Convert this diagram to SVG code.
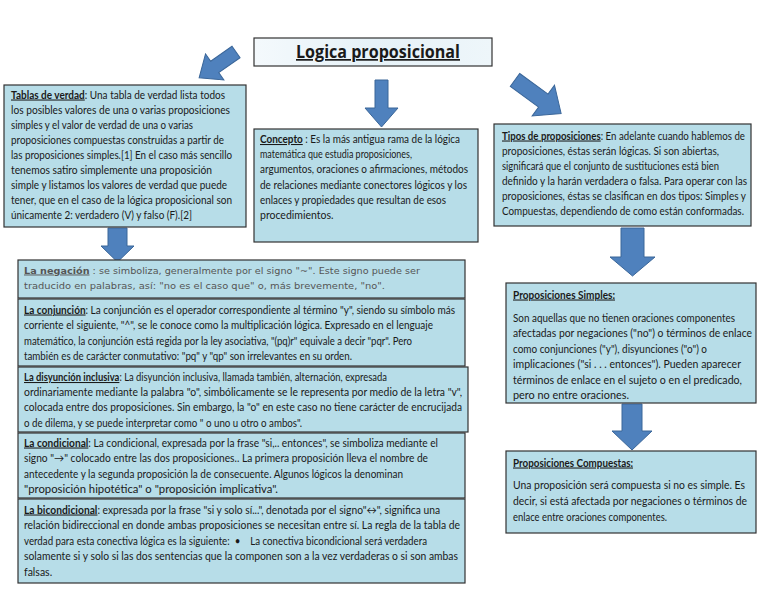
<svg xmlns="http://www.w3.org/2000/svg" width="768" height="594" viewBox="0 0 768 594">
<defs>
<linearGradient id="tg" x1="0" y1="0" x2="1" y2="0">
<stop offset="0" stop-color="#f4f9fc"/>
<stop offset="0.5" stop-color="#e6f2f8"/>
<stop offset="1" stop-color="#eef6fa"/>
</linearGradient>
</defs>
<style>
.box{fill:#b7dde8;stroke:#333;stroke-width:1.2}
.t{font-family:Lato,"Liberation Sans",sans-serif;font-size:10.5px;fill:#1a1a1a}
.n{font-family:"DejaVu Sans",sans-serif;font-size:9.5px;fill:#555}
.h{font-weight:bold;text-decoration:underline}
.arr{fill:#4f81bd;stroke:#3a6699;stroke-width:1}
</style>
<rect width="768" height="594" fill="#fff"/>
<g id="connectors">
<polygon class="arr" points="375,80 388,80 388,108 398,108 381.5,127 365,108 375,108"/>
<polygon class="arr" points="108,228 127,228 127,246 134,246 117.5,262 101,246 108,246"/>
<polygon class="arr" points="621,228 644,228 644,257 655,257 632.5,276 610,257 621,257"/>
<polygon class="arr" points="622,404 642,404 642,431 652,431 632,450 612,431 622,431"/>
<polygon class="arr" transform="translate(236,52) rotate(145)" points="0,-7 26,-7 26,-16 45,0 26,16 26,7 0,7"/>
<polygon class="arr" transform="translate(515,80) rotate(36)" points="0,-8 35,-8 35,-19 57,0 35,19 35,8 0,8"/>
</g>
<g id="title">
<rect x="254" y="38" width="238" height="28" fill="url(#tg)" stroke="#333" stroke-width="1.2"/>
<text x="296" y="58" font-family="'Open Sans','Liberation Sans',sans-serif" font-size="17" font-weight="bold" text-decoration="underline" fill="#1a1a1a" textLength="164" lengthAdjust="spacingAndGlyphs">Logica proposicional</text>
</g>
<g id="tablas">
<rect class="box" x="4" y="85" width="242" height="142"/>
<text class="t" x="11" y="98.5" textLength="214" lengthAdjust="spacingAndGlyphs"><tspan class="h">Tablas de verdad</tspan>: Una tabla de verdad lista todos</text>
<text class="t" x="11" y="113.6" textLength="219" lengthAdjust="spacingAndGlyphs">los posibles valores de una o varias proposiciones</text>
<text class="t" x="11" y="128.7" textLength="182" lengthAdjust="spacingAndGlyphs">simples y el valor de verdad de una o varias</text>
<text class="t" x="11" y="143.8" textLength="213" lengthAdjust="spacingAndGlyphs">proposiciones compuestas construidas a partir de</text>
<text class="t" x="11" y="158.9" textLength="221" lengthAdjust="spacingAndGlyphs">las proposiciones simples.[1] En el caso más sencillo</text>
<text class="t" x="11" y="174" textLength="201" lengthAdjust="spacingAndGlyphs">tenemos satiro simplemente una proposición</text>
<text class="t" x="11" y="189.1" textLength="216" lengthAdjust="spacingAndGlyphs">simple y listamos los valores de verdad que puede</text>
<text class="t" x="11" y="204.2" textLength="221" lengthAdjust="spacingAndGlyphs">tener, que en el caso de la lógica proposicional son</text>
<text class="t" x="11" y="219.3" textLength="181" lengthAdjust="spacingAndGlyphs">únicamente 2: verdadero (V) y falso (F).[2]</text>
</g>
<g id="concepto">
<rect class="box" x="254" y="129" width="224" height="113"/>
<text class="t" x="260" y="143" textLength="200" lengthAdjust="spacingAndGlyphs"><tspan class="h">Concepto</tspan> : Es la más antigua rama de la lógica</text>
<text class="t" x="260" y="158.2" textLength="152" lengthAdjust="spacingAndGlyphs">matemática que estudia proposiciones,</text>
<text class="t" x="260" y="173.4" textLength="208" lengthAdjust="spacingAndGlyphs">argumentos, oraciones o afirmaciones, métodos</text>
<text class="t" x="260" y="188.6" textLength="207" lengthAdjust="spacingAndGlyphs">de relaciones mediante conectores lógicos y los</text>
<text class="t" x="260" y="203.8" textLength="186" lengthAdjust="spacingAndGlyphs">enlaces y propiedades que resultan de esos</text>
<text class="t" x="260" y="219">procedimientos.</text>
</g>
<g id="tipos">
<rect class="box" x="494" y="124" width="257" height="102"/>
<text class="t" x="502" y="139.5" textLength="243" lengthAdjust="spacingAndGlyphs"><tspan class="h">Tipos de proposiciones</tspan>: En adelante cuando hablemos de</text>
<text class="t" x="502" y="154.5" textLength="217" lengthAdjust="spacingAndGlyphs">proposiciones, éstas serán lógicas. Si son abiertas,</text>
<text class="t" x="502" y="169.5" textLength="217" lengthAdjust="spacingAndGlyphs">significará que el conjunto de sustituciones está bien</text>
<text class="t" x="502" y="184.5" textLength="245" lengthAdjust="spacingAndGlyphs">definido y la harán verdadera o falsa. Para operar con las</text>
<text class="t" x="502" y="199.5" textLength="244" lengthAdjust="spacingAndGlyphs">proposiciones, éstas se clasifican en dos tipos: Simples y</text>
<text class="t" x="502" y="214.5" textLength="242" lengthAdjust="spacingAndGlyphs">Compuestas, dependiendo de como están conformadas.</text>
</g>
<g id="negacion">
<rect class="box" x="18" y="260" width="447" height="38" stroke="#555"/>
<text class="n" x="24" y="273.5" textLength="396" lengthAdjust="spacingAndGlyphs"><tspan class="h">La negación</tspan> : se simboliza, generalmente por el signo "~". Este signo puede ser</text>
<text class="n" x="24" y="288.5" textLength="361" lengthAdjust="spacingAndGlyphs">traducido en palabras, así: "no es el caso que" o, más brevemente, "no".</text>
</g>
<g id="conjuncion">
<rect class="box" x="18" y="299" width="447" height="67"/>
<text class="t" x="24" y="313.5" textLength="431" lengthAdjust="spacingAndGlyphs"><tspan class="h">La conjunción</tspan>: La conjunción es el operador correspondiente al término "y", siendo su símbolo más</text>
<text class="t" x="24" y="329" textLength="409" lengthAdjust="spacingAndGlyphs">corriente el siguiente, "^", se le conoce como la multiplicación lógica. Expresado en el lenguaje</text>
<text class="t" x="24" y="344.5" textLength="388" lengthAdjust="spacingAndGlyphs">matemático, la conjunción está regida por la ley asociativa, "(pq)r" equivale a decir "pqr". Pero</text>
<text class="t" x="24" y="360" textLength="328" lengthAdjust="spacingAndGlyphs">también es de carácter conmutativo: "pq" y "qp" son irrelevantes en su orden.</text>
</g>
<g id="disyuncion">
<rect class="box" x="18" y="367" width="450" height="65"/>
<text class="t" x="24" y="381" font-size="9.4" textLength="363" lengthAdjust="spacingAndGlyphs"><tspan class="h">La disyunción inclusiva</tspan>: La disyunción inclusiva, llamada también, alternación, expresada</text>
<text class="t" x="24" y="396.2" textLength="438" lengthAdjust="spacingAndGlyphs">ordinariamente mediante la palabra "o", simbólicamente se le representa por medio de la letra "v",</text>
<text class="t" x="24" y="411.4" textLength="438" lengthAdjust="spacingAndGlyphs">colocada entre dos proposiciones. Sin embargo, la "o" en este caso no tiene carácter de encrucijada</text>
<text class="t" x="24" y="426.6" textLength="278" lengthAdjust="spacingAndGlyphs">o de dilema, y se puede interpretar como " o uno u otro o ambos".</text>
</g>
<g id="condicional">
<rect class="box" x="18" y="433" width="447" height="65"/>
<text class="t" x="24" y="446.5" textLength="414" lengthAdjust="spacingAndGlyphs"><tspan class="h">La condicional</tspan>: La condicional, expresada por la frase "si,.. entonces", se simboliza mediante el</text>
<text class="t" x="24" y="462" textLength="404" lengthAdjust="spacingAndGlyphs">signo "→" colocado entre las dos proposiciones.. La primera proposición lleva el nombre de</text>
<text class="t" x="24" y="477.5" textLength="379" lengthAdjust="spacingAndGlyphs">antecedente y la segunda proposición la de consecuente. Algunos lógicos la denominan</text>
<text class="t" x="24" y="493" textLength="254" lengthAdjust="spacingAndGlyphs">"proposición hipotética" o "proposición implicativa".</text>
</g>
<g id="bicondicional">
<rect class="box" x="18" y="499" width="447" height="84"/>
<text class="t" x="24" y="513.5" textLength="416" lengthAdjust="spacingAndGlyphs"><tspan class="h">La bicondicional</tspan>: expresada por la frase "si y solo sí...", denotada por el signo"↔", significa una</text>
<text class="t" x="24" y="529" textLength="436" lengthAdjust="spacingAndGlyphs">relación bidireccional en donde ambas proposiciones se necesitan entre sí. La regla de la tabla de</text>
<text class="t" x="24" y="544.5" textLength="403" lengthAdjust="spacingAndGlyphs">verdad para esta conectiva lógica es la siguiente: &#160;•&#160;&#160;&#160;&#160;La conectiva bicondicional será verdadera</text>
<text class="t" x="24" y="560" textLength="434" lengthAdjust="spacingAndGlyphs">solamente si y solo si las dos sentencias que la componen son a la vez verdaderas o si son ambas</text>
<text class="t" x="24" y="575.5">falsas.</text>
</g>
<g id="simples">
<rect class="box" x="506" y="283" width="250" height="120"/>
<text class="t" x="513" y="298.5" textLength="102" lengthAdjust="spacingAndGlyphs"><tspan class="h">Proposiciones Simples:</tspan></text>
<text class="t" x="513" y="321.5" textLength="222" lengthAdjust="spacingAndGlyphs">Son aquellas que no tienen oraciones componentes</text>
<text class="t" x="513" y="337" textLength="239" lengthAdjust="spacingAndGlyphs">afectadas por negaciones ("no") o términos de enlace</text>
<text class="t" x="513" y="352.5" textLength="194" lengthAdjust="spacingAndGlyphs">como conjunciones ("y"), disyunciones ("o") o</text>
<text class="t" x="513" y="368" textLength="228" lengthAdjust="spacingAndGlyphs">implicaciones ("si . . . entonces"). Pueden aparecer</text>
<text class="t" x="513" y="383.5" textLength="229" lengthAdjust="spacingAndGlyphs">términos de enlace en el sujeto o en el predicado,</text>
<text class="t" x="513" y="399" textLength="116" lengthAdjust="spacingAndGlyphs">pero no entre oraciones.</text>
</g>
<g id="compuestas">
<rect class="box" x="506" y="451" width="250" height="82"/>
<text class="t" x="513" y="466.5" textLength="120" lengthAdjust="spacingAndGlyphs"><tspan class="h">Proposiciones Compuestas:</tspan></text>
<text class="t" x="513" y="488.5" textLength="232" lengthAdjust="spacingAndGlyphs">Una proposición será compuesta si no es simple. Es</text>
<text class="t" x="513" y="504.5" textLength="234" lengthAdjust="spacingAndGlyphs">decir, si está afectada por negaciones o términos de</text>
<text class="t" x="513" y="520.5" textLength="154" lengthAdjust="spacingAndGlyphs">enlace entre oraciones componentes.</text>
</g>
</svg>
